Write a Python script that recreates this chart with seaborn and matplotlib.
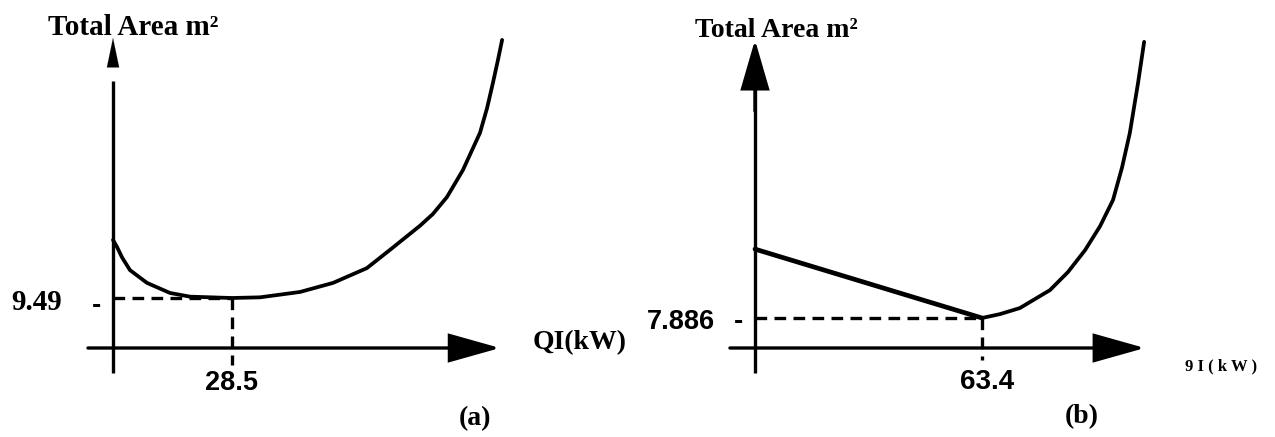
import matplotlib
matplotlib.use("Agg")
import matplotlib.pyplot as plt
import seaborn as sns

# ---------------- data (schematic) ----------------
# panel (a)
ql_a = [0.0, 0.96, 2.16, 4.07, 8.14, 13.65, 18.44, 28.5, 35.2, 44.8, 52.7, 60.8, 66.3,
        69.9, 73.5, 76.6, 80.0, 83.8, 87.9, 89.6, 91.0, 92.2, 93.2]
area_a = [11.22, 11.01, 10.70, 10.32, 9.94, 9.64, 9.53, 9.49, 9.51, 9.67, 9.94, 10.38, 10.92,
          11.28, 11.64, 11.99, 12.50, 13.30, 14.41, 15.15, 15.90, 16.58, 17.18]
opt_q_a, opt_area_a = 28.5, 9.49
# panel (b)
ql_b_line = [0.0, 63.4]
area_b_line = [9.92, 7.886]
ql_b_curve = [63.4, 68.4, 74.0, 82.4, 87.4, 92.2, 96.4, 100.0, 102.5, 104.7, 107.0, 108.7]
area_b_curve = [7.886, 8.00, 8.18, 8.71, 9.24, 9.89, 10.60, 11.37, 12.32, 13.35, 14.83, 16.04]
opt_q_b, opt_area_b = 63.4, 7.886

tick_labels_a = ["9.49", "28.5"]
tick_labels_b = ["7.886", "63.4"]
panel_labels = ["(a)", "(b)"]

# ---------------- style ----------------
sns.set_theme(style="white")
plt.rcParams["font.family"] = ["Liberation Serif", "DejaVu Serif"]
plt.rcParams["text.color"] = "black"
SERIF = "Liberation Serif"
SANS = "Liberation Sans"
INK = "black"

fig = plt.figure(figsize=(12.75, 4.37), dpi=100)
ax_a = fig.add_axes([0.0, 0.0, 0.5, 1.0])
ax_b = fig.add_axes([0.5, 0.0, 0.5, 1.0])
for ax in (ax_a, ax_b):
    ax.set_axis_off()

# pixel mappings (layout only)
ax_a.set_xlim(-27.07, 125.63)
ax_a.set_ylim(5.348, 18.370)
ax_b.set_xlim(-32.82, 145.25)
ax_b.set_ylim(4.372, 17.276)

base_a, base_b = 8.0, 7.0   # y of the horizontal axis line


def arrow(ax, start, end, hl, hw, ms=20, lw=2.4):
    ax.annotate("", xy=end, xytext=start,
                arrowprops=dict(arrowstyle=f"-|>,head_length={hl},head_width={hw}",
                                mutation_scale=ms, lw=lw, color=INK,
                                shrinkA=0, shrinkB=0, joinstyle="miter"))


def txt(ax, x, y, s, size, family, ha="center"):
    ax.text(x, y, s, fontsize=size, fontweight="bold", family=family,
            ha=ha, va="center", color=INK)


# ---------------- panel (a) ----------------
ax_a.plot([0, 0], [7.255, 15.96], color=INK, lw=2.4, solid_capstyle="butt")
arrow(ax_a, (0, 16.38), (0, 17.24), hl=1.05, hw=0.22, ms=20, lw=0.1)
arrow(ax_a, (-6.0, base_a), (92.7, base_a), hl=1.6, hw=0.45)
sns.lineplot(x=ql_a, y=area_a, ax=ax_a, color=INK, lw=2.7, sort=False,
             estimator=None)
ax_a.plot([0, opt_q_a], [opt_area_a, opt_area_a], color=INK, lw=2.4,
          dashes=(3.5, 2.2))
ax_a.plot([opt_q_a, opt_q_a], [opt_area_a, 7.49], color=INK, lw=2.4,
          dashes=(3.5, 2.2))
txt(ax_a, -15.6, 17.54, "Total Area m²", 21, SERIF, ha="left")
txt(ax_a, -12.1, opt_area_a - 0.12, tick_labels_a[0], 21, SERIF, ha="right")
txt(ax_a, -4.0, opt_area_a - 0.24, "-", 20, SANS)
txt(ax_a, opt_q_a, 6.96, tick_labels_a[1], 19.5, SANS)
txt(ax_a, 100.4, 8.15, "QI(kW)", 20, SERIF, ha="left")
txt(ax_a, 86.7, 5.91, panel_labels[0], 20, SERIF)

# ---------------- panel (b) ----------------
ax_b.plot([0, 0], [6.26, 15.0], color=INK, lw=2.4, solid_capstyle="butt")
arrow(ax_b, (0, 14.0), (0, 16.1), hl=1.55, hw=0.45)
arrow(ax_b, (-7.0, base_b), (108.9, base_b), hl=1.6, hw=0.45)
sns.lineplot(x=ql_b_line, y=area_b_line, ax=ax_b, color=INK, lw=3.4, sort=False,
             estimator=None)
sns.lineplot(x=ql_b_curve, y=area_b_curve, ax=ax_b, color=INK, lw=2.7, sort=False,
             estimator=None)
ax_b.plot([0, opt_q_b], [opt_area_b, opt_area_b], color=INK, lw=2.4,
          dashes=(3.5, 2.2))
ax_b.plot([opt_q_b, opt_q_b], [opt_area_b, 6.65], color=INK, lw=2.4,
          dashes=(3.5, 2.2))
txt(ax_b, -16.8, 16.39, "Total Area m²", 20, SERIF, ha="left")
txt(ax_b, -11.2, opt_area_b - 0.12, tick_labels_b[0], 19.5, SANS, ha="right")
txt(ax_b, -4.5, opt_area_b - 0.12, "-", 20, SANS)
txt(ax_b, opt_q_b + 1.5, 6.0, tick_labels_b[1], 20, SANS)
txt(ax_b, 130.2, 6.45, "9 I ( k W )", 12, SERIF)
txt(ax_b, 91.3, 4.98, panel_labels[1], 20, SERIF)

fig.savefig("out.png", dpi=100)
